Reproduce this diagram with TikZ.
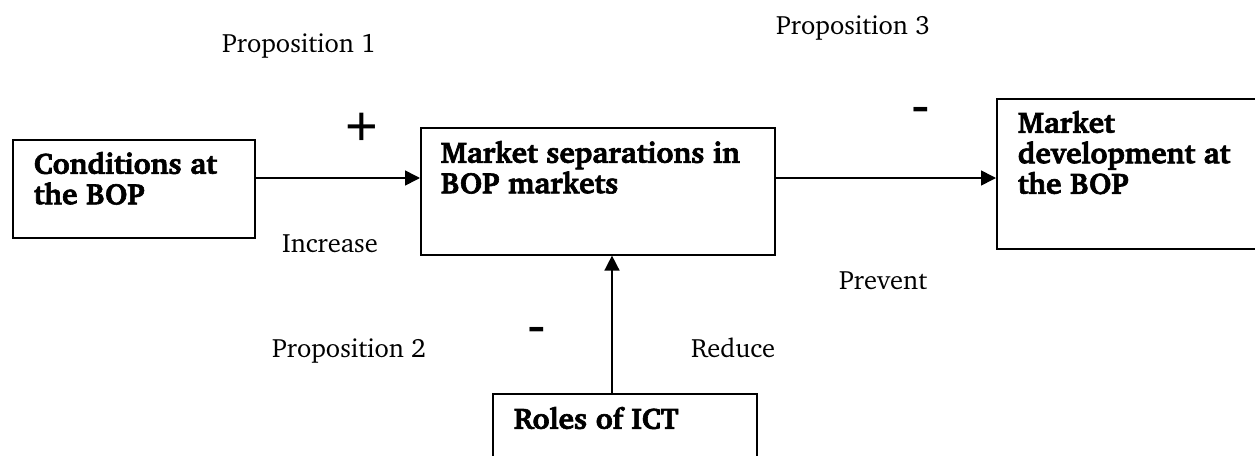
\documentclass[tikz,border=0pt]{standalone}
\usepackage{fontspec}
\newfontfamily\signfont{Liberation Sans}
\usepackage[T1]{fontenc}
\usepackage{charter}
\usetikzlibrary{arrows.meta}
\newcommand\bxt[5]{\parbox[c][#2][t]{#1}{\raggedright\leftskip=#3\relax\special{pdf:literal 2 Tr 0.6 w}\rule{0pt}{#4}#5\par\special{pdf:literal 0 Tr 1.6 w}}}
\begin{document}
\begin{tikzpicture}[x=1pt,y=-1pt,
  box/.style={draw, line width=1.6pt, inner sep=0pt, anchor=north west,
    font=\fontsize{29.5}{30.5}\selectfont\bfseries},
  arr/.style={line width=1.6pt, -{Triangle[length=15pt,width=15pt]}},
  lab/.style={font=\fontsize{26.5}{30}\selectfont, anchor=base west, inner sep=0pt},
  sign/.style={font=\signfont\fontsize{56}{60}\selectfont, inner sep=0pt}]
\useasboundingbox (0,0) rectangle (1255,455);
\clip (0,0) rectangle (1255,455);
\node[box] (A) at (12,139) {\bxt{242pt}{98pt}{21pt}{34pt}{Conditions at\\the BOP}};
\node[box] (B) at (420,127) {\bxt{354pt}{127pt}{20pt}{35pt}{Market separations in\\BOP markets}};
\node[box] (C) at (996,98) {\bxt{274pt}{150pt}{21pt}{34pt}{Market\\development at\\the BOP}};
\node[box] (D) at (492,393) {\bxt{264pt}{77pt}{21pt}{35pt}{Roles of ICT}};
\coordinate (ya) at (0,178);
\coordinate (xv) at (612,0);
\draw[arr] (A.east |- ya) -- (B.west |- ya);
\draw[arr] (B.east |- ya) -- (C.west |- ya);
\draw[arr] (xv |- D.north) -- (xv |- B.south);
\node[lab] (p1) at (222,52) {Proposition 1};
\node[lab] (p3) at (776,34) {Proposition 3};
\node[lab] (p2) at (272,357) {Proposition 2};
\node[lab] (inc) at (282,252) {Increase};
\node[lab] (prev) at (839,289) {Prevent};
\node[lab] (red) at (691,357) {Reduce};
\node[sign] (plus) at (362,129) {+};
\node[sign] (m1) at (921,116) {-};
\node[sign] (m2) at (537,336) {-};
\end{tikzpicture}
\end{document}
